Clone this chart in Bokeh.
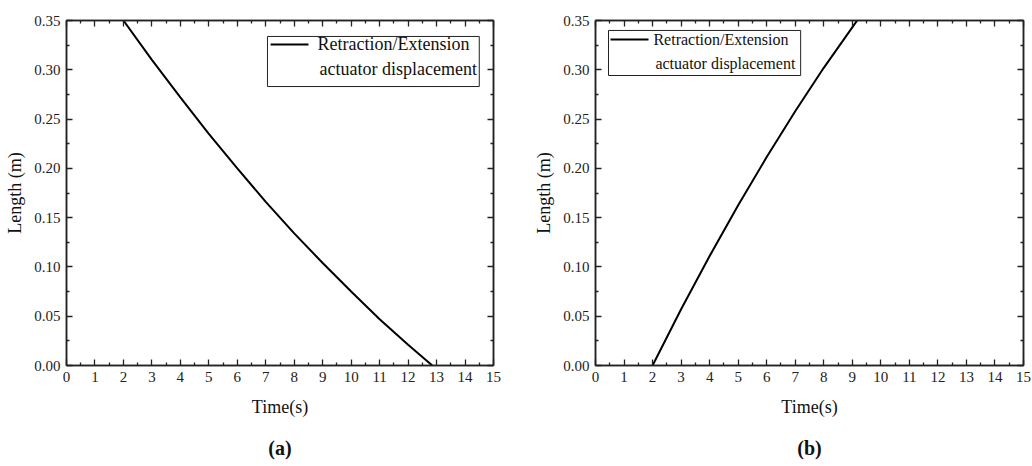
from bokeh.plotting import figure
from bokeh.models import (Range1d, FixedTicker, LinearAxis, BoxAnnotation,
                          Label, NumeralTickFormatter, CustomJSTickFormatter)
from bokeh.layouts import row
from bokeh.embed import file_html
from bokeh.resources import INLINE

# ---- data ----
time_a = [2.0, 3.0, 4.0, 5.0, 6.0, 7.0, 8.0, 9.0, 10.0, 11.0, 12.0, 12.85]
length_a = [0.350, 0.310, 0.272, 0.235, 0.200, 0.166, 0.134, 0.104, 0.075, 0.047, 0.021, 0.0]

time_b = [2.0, 3.0, 4.0, 5.0, 6.0, 7.0, 8.0, 9.0, 9.17]
length_b = [0.0, 0.057, 0.111, 0.1625, 0.2115, 0.258, 0.302, 0.343, 0.350]

x_ticks = [0, 1, 2, 3, 4, 5, 6, 7, 8, 9, 10, 11, 12, 13, 14, 15]
x_minor = [0.5, 1.5, 2.5, 3.5, 4.5, 5.5, 6.5, 7.5, 8.5, 9.5, 10.5, 11.5, 12.5, 13.5, 14.5]
y_ticks = [0.0, 0.05, 0.10, 0.15, 0.20, 0.25, 0.30, 0.35]
y_minor = [0.025, 0.075, 0.125, 0.175, 0.225, 0.275, 0.325]

x_range = (0, 15)
y_range = (0, 0.35)
x_label = "Time(s)"
y_label = "Length (m)"
legend_lines = ["Retraction/Extension", "actuator displacement"]
panel_labels = ["(a)", "(b)"]

FONT = "Liberation Serif"


def style_axis(ax, show_labels=True):
    ax.axis_line_width = 1.5
    ax.axis_line_color = "#222222"
    ax.major_tick_in = 6
    ax.major_tick_out = 0
    ax.minor_tick_in = 3
    ax.minor_tick_out = 0
    ax.major_tick_line_width = 1.3
    ax.minor_tick_line_width = 1.3
    ax.major_tick_line_color = "#222222"
    ax.minor_tick_line_color = "#222222"
    if show_labels:
        ax.major_label_text_font = FONT
        ax.major_label_text_font_size = "15px"
        ax.major_label_text_color = "#222222"
        ax.axis_label_text_font = FONT
        ax.axis_label_text_font_size = "18px"
        ax.axis_label_text_font_style = "normal"
        ax.axis_label_text_color = "#111111"
    else:
        ax.formatter = CustomJSTickFormatter(code="return ''")
        ax.major_label_text_font_size = "10px"
        ax.major_label_standoff = 0


def make_panel(times, lengths, legend_cfg, panel_label, width, border_left, border_right):
    p = figure(width=width, height=464, output_backend="svg", toolbar_location=None,
               x_range=Range1d(*x_range), y_range=Range1d(*y_range),
               x_axis_label=x_label, y_axis_label=y_label,
               min_border_left=border_left, min_border_right=border_right,
               min_border_top=20, min_border_bottom=99)
    p.grid.visible = False
    p.outline_line_color = "#222222"
    p.outline_line_width = 1.5
    p.background_fill_color = "white"
    p.border_fill_color = "white"

    p.xaxis.ticker = FixedTicker(ticks=x_ticks, minor_ticks=x_minor)
    p.yaxis.ticker = FixedTicker(ticks=y_ticks, minor_ticks=y_minor)
    p.yaxis.formatter = NumeralTickFormatter(format="0.00")
    for ax in p.xaxis:
        style_axis(ax)
        ax.major_label_standoff = 6
        ax.axis_label_standoff = 12
    for ax in p.yaxis:
        style_axis(ax)
        ax.major_label_standoff = 6
        ax.axis_label_standoff = 6

    top = LinearAxis(ticker=FixedTicker(ticks=x_ticks, minor_ticks=x_minor))
    style_axis(top, show_labels=False)
    p.add_layout(top, "above")
    right = LinearAxis(ticker=FixedTicker(ticks=y_ticks, minor_ticks=y_minor))
    style_axis(right, show_labels=False)
    p.add_layout(right, "right")

    # caption "(a)"/"(b)" carried by an invisible second bottom axis
    cap = LinearAxis(ticker=FixedTicker(ticks=[]), axis_label=panel_label)
    cap.formatter = CustomJSTickFormatter(code="return ''")
    cap.axis_line_color = None
    cap.major_tick_line_color = None
    cap.minor_tick_line_color = None
    cap.major_label_text_font_size = "10px"
    cap.major_label_standoff = 0
    cap.axis_label_text_font = FONT
    cap.axis_label_text_font_size = "20px"
    cap.axis_label_text_font_style = "bold"
    cap.axis_label_text_color = "#111111"
    cap.axis_label_standoff = 17
    p.add_layout(cap, "below")

    p.line(times, lengths, line_color="black", line_width=2)

    # legend (manually drawn to allow a two-line label)
    box = BoxAnnotation(left=legend_cfg["box"][0], right=legend_cfg["box"][1],
                        bottom=legend_cfg["box"][2], top=legend_cfg["box"][3],
                        fill_color=None, fill_alpha=0, line_color="#222222", line_width=1,
                        line_alpha=1)
    p.add_layout(box)
    p.segment(x0=[legend_cfg["swatch"][0]], x1=[legend_cfg["swatch"][1]],
              y0=[legend_cfg["swatch"][2]], y1=[legend_cfg["swatch"][2]],
              line_color="black", line_width=2)
    for txt, (tx, ty) in zip(legend_lines, legend_cfg["text"]):
        p.add_layout(Label(x=tx, y=ty, text=txt, text_font=FONT,
                           text_font_size=legend_cfg["size"], text_baseline="middle",
                           text_align="left", text_color="#111111"))
    return p


legend_a = {"box": (7.06, 14.5, 0.283, 0.3338), "swatch": (7.17, 8.5, 0.3257),
            "text": [(8.82, 0.3257), (8.89, 0.3013)], "size": "18px"}
legend_b = {"box": (0.456, 7.19, 0.2942, 0.3399), "swatch": (0.526, 1.858, 0.3307),
            "text": [(2.03, 0.3307), (2.10, 0.3064)], "size": "16px"}

p1 = make_panel(time_a, length_a, legend_a, panel_labels[0], 530, 66, 37)
p2 = make_panel(time_b, length_b, legend_b, panel_labels[1], 502, 65, 9)

layout = row(p1, p2)
open("out.html", "w").write(file_html(layout, INLINE))
